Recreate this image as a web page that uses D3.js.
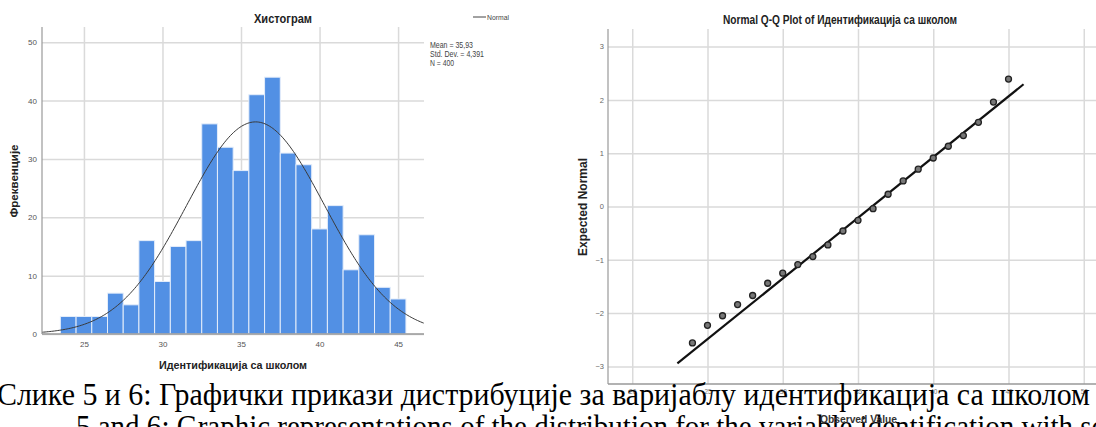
<!DOCTYPE html>
<html>
<head>
<meta charset="utf-8">
<script src="https://cdn.jsdelivr.net/npm/d3@7"></script>
<style>
  body { margin: 0; background: #fff; }
  svg { display: block; }
  .chart text { font-family: "Liberation Sans Narrow", "Arial Narrow", "Liberation Sans", Arial, sans-serif; }
  .caption { font-family: "Liberation Serif", "Times New Roman", serif; }
</style>
</head>
<body>
<svg id="chart" width="1096" height="427"></svg>
<script>
// histogram: bins of width 1 centred on these values
const binCentres = [24, 25, 26, 27, 28, 29, 30, 31, 32, 33, 34, 35, 36, 37, 38, 39, 40, 41, 42, 43, 44, 45];
const binCounts  = [3, 3, 3, 7, 5, 16, 9, 15, 16, 36, 32, 28, 41, 44, 31, 29, 18, 22, 11, 17, 8, 6];
const histXTicks = [25, 30, 35, 40, 45];
const histYTicks = [0, 10, 20, 30, 40, 50];
const mean = 35.93, stdDev = 4.391, nCases = 400;
const statLines = ['Mean = 35,93', 'Std. Dev. = 4,391', 'N = 400'];

// Q-Q plot
const qqObserved = [24, 25, 26, 27, 28, 29, 30, 31, 32, 33, 34, 35, 36, 37, 38, 39, 40, 41, 42, 43, 44, 45];
const qqExpected = [-2.56, -2.23, -2.05, -1.84, -1.67, -1.44, -1.25, -1.09, -0.94, -0.72, -0.46, -0.26,
                    -0.04, 0.23, 0.48, 0.70, 0.91, 1.13, 1.33, 1.58, 1.96, 2.39];
const qqLineX = [23, 46];
const qqXTicks = [20, 25, 30, 35, 40, 45, 50];
const qqYTicks = [-3, -2, -1, 0, 1, 2, 3];

const captionLines = [
  'Слике 5 и 6: Графички прикази дистрибуције за варијаблу идентификација са школом',
  '5 and 6: Graphic representations of the distribution for the variable identification with school'
];

const svg = d3.select('#chart');
const chart = svg.append('g').attr('class', 'chart');
const gridColor = '#dadada';

// ---------- histogram ----------
const hx = d3.scaleLinear().domain([22.33, 46.65]).range([42, 424]);
const hy = d3.scaleLinear().domain([0, 52.6]).range([334, 27]);

const hg = chart.append('g');

hg.append('g')
  .attr('transform', 'translate(0,334)')
  .call(d3.axisBottom(hx).tickValues(histXTicks).tickSize(-(334 - 27)).tickPadding(7))
  .call(g => g.select('.domain').remove())
  .call(g => g.selectAll('line').attr('stroke', gridColor).attr('stroke-width', 1.5))
  .call(g => g.selectAll('text').attr('fill', '#555').style('font-size', '8px'));

hg.append('g')
  .attr('transform', 'translate(42,0)')
  .call(d3.axisLeft(hy).tickValues(histYTicks).tickSize(-(424 - 42)).tickPadding(5))
  .call(g => g.select('.domain').remove())
  .call(g => g.selectAll('line').attr('stroke', gridColor).attr('stroke-width', 1.5))
  .call(g => g.selectAll('text').attr('fill', '#555').style('font-size', '8px'));

hg.selectAll('.bar')
  .data(binCentres)
  .enter()
  .append('rect')
  .attr('class', 'bar')
  .attr('x', d => hx(d - 0.5))
  .attr('width', d => hx(d + 0.5) - hx(d - 0.5))
  .attr('y', (d, i) => hy(binCounts[i]))
  .attr('height', (d, i) => hy(0) - hy(binCounts[i]))
  .attr('fill', '#5290e4')
  .attr('stroke', '#e4edfa')
  .attr('stroke-width', 1);

// normal curve scaled to counts (bin width 1)
const curveX = d3.range(hx.domain()[0], hx.domain()[1] + 0.01, 0.1);
const density = v => nCases / (stdDev * Math.sqrt(2 * Math.PI)) * Math.exp(-0.5 * ((v - mean) / stdDev) ** 2);
hg.append('path')
  .datum(curveX)
  .attr('d', d3.line().x(d => hx(d)).y(d => hy(density(d))))
  .attr('fill', 'none')
  .attr('stroke', '#3a3a3a')
  .attr('stroke-width', 1);

hg.append('line').attr('x1', 42).attr('x2', 42).attr('y1', 27).attr('y2', 334).attr('stroke', '#999').attr('stroke-width', 1.2);
hg.append('line').attr('x1', 42).attr('x2', 424).attr('y1', 334).attr('y2', 334).attr('stroke', '#999').attr('stroke-width', 1.5);

hg.append('text').attr('x', 254).attr('y', 23)
  .attr('textLength', 58).attr('lengthAdjust', 'spacingAndGlyphs')
  .style('font-size', '12.5px').style('font-weight', 'bold').attr('fill', '#222').text('Хистограм');

hg.append('line').attr('x1', 473).attr('x2', 486).attr('y1', 17).attr('y2', 17).attr('stroke', '#444');
hg.append('text').attr('x', 487).attr('y', 20)
  .attr('textLength', 22).attr('lengthAdjust', 'spacingAndGlyphs')
  .style('font-size', '8px').attr('fill', '#444').text('Normal');

hg.selectAll('.stat')
  .data(statLines)
  .enter()
  .append('text')
  .attr('class', 'stat')
  .attr('x', 430)
  .attr('y', (d, i) => 48 + i * 9)
  .attr('textLength', (d, i) => [43, 54, 24][i]).attr('lengthAdjust', 'spacingAndGlyphs')
  .style('font-size', '9px')
  .attr('fill', '#444')
  .text(d => d);

hg.append('text')
  .attr('transform', 'translate(18,181) rotate(-90)')
  .attr('text-anchor', 'middle')
  .style('font-size', '11.5px').style('font-weight', 'bold').attr('fill', '#222')
  .text('Фреквенције');

hg.append('text').attr('x', 159).attr('y', 369)
  .attr('textLength', 148).attr('lengthAdjust', 'spacingAndGlyphs')
  .style('font-size', '11.5px').style('font-weight', 'bold').attr('fill', '#222')
  .text('Идентификација са школом');

// ---------- Q-Q plot ----------
const qx = d3.scaleLinear().domain([18.39, 51.61]).range([608, 1108]);
const qy = d3.scaleLinear().domain([-3.33, 3.33]).range([384, 29]);

const qg = chart.append('g');

qg.append('g')
  .attr('transform', 'translate(0,384)')
  .call(d3.axisBottom(qx).tickValues(qqXTicks).tickFormat(d3.format('d')).tickSize(-(384 - 29)).tickPadding(5))
  .call(g => g.select('.domain').remove())
  .call(g => g.selectAll('line').attr('stroke', gridColor).attr('stroke-width', 1.5))
  .call(g => g.selectAll('text').attr('fill', '#777').style('font-size', '6.5px'));

qg.append('g')
  .attr('transform', 'translate(608,0)')
  .call(d3.axisLeft(qy).tickValues(qqYTicks).tickFormat(d3.format('d')).tickSize(-(1108 - 608)).tickPadding(4))
  .call(g => g.select('.domain').remove())
  .call(g => g.selectAll('line').attr('stroke', gridColor).attr('stroke-width', 1.5))
  .call(g => g.selectAll('text').attr('fill', '#666').style('font-size', '7.5px'));

qg.append('line').attr('x1', 608).attr('x2', 608).attr('y1', 29).attr('y2', 384).attr('stroke', '#999').attr('stroke-width', 1.2);
qg.append('line').attr('x1', 608).attr('x2', 1108).attr('y1', 384).attr('y2', 384).attr('stroke', '#999').attr('stroke-width', 1.5);

qg.append('path')
  .datum(qqLineX)
  .attr('d', d3.line().x(d => qx(d)).y(d => qy((d - mean) / stdDev)))
  .attr('stroke', '#111')
  .attr('stroke-width', 2.2);

qg.selectAll('.pt')
  .data(qqObserved)
  .enter()
  .append('circle')
  .attr('class', 'pt')
  .attr('cx', d => qx(d))
  .attr('cy', (d, i) => qy(qqExpected[i]))
  .attr('r', 3)
  .attr('fill', '#777')
  .attr('stroke', '#222')
  .attr('stroke-width', 1.3);

qg.append('text').attr('x', 723).attr('y', 24)
  .attr('textLength', 234).attr('lengthAdjust', 'spacingAndGlyphs')
  .style('font-size', '12.5px').style('font-weight', 'bold').attr('fill', '#222')
  .text('Normal Q-Q Plot of Идентификација са школом');

qg.append('text')
  .attr('transform', 'translate(587,207) rotate(-90)')
  .attr('text-anchor', 'middle')
  .style('font-size', '12px').style('font-weight', 'bold').attr('fill', '#222')
  .text('Expected Normal');

// ---------- caption over the figures ----------
svg.append('text').attr('class', 'caption')
  .attr('x', -3).attr('y', 405)
  .attr('textLength', 1093).attr('lengthAdjust', 'spacingAndGlyphs')
  .style('font-size', '32px').attr('fill', '#000')
  .text(captionLines[0]);

svg.append('text').attr('class', 'caption')
  .attr('x', 76).attr('y', 437)
  .attr('textLength', 1080).attr('lengthAdjust', 'spacingAndGlyphs')
  .style('font-size', '32px').attr('fill', '#000')
  .text(captionLines[1]);

// axis title sits on top of the caption, as in the source figure
svg.append('text').attr('x', 820).attr('y', 423)
  .attr('textLength', 77).attr('lengthAdjust', 'spacingAndGlyphs')
  .style('font-family', '"Liberation Sans", Arial, sans-serif')
  .style('font-size', '10px').style('font-weight', 'bold').attr('fill', '#333')
  .text('Observed Value');
</script>
</body>
</html>
